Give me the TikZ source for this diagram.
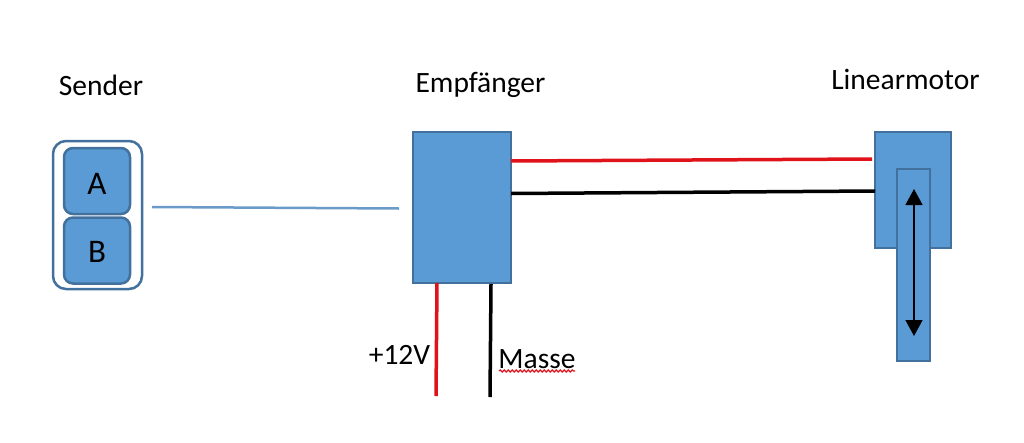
\documentclass[tikz,border=0pt]{standalone}
\usepackage{fontspec}
\setmainfont{Carlito}
\usetikzlibrary{arrows.meta,decorations.pathmorphing}
\definecolor{fillblue}{HTML}{5B9BD5}
\definecolor{edgeblue}{HTML}{41719C}
\definecolor{wirered}{HTML}{E0131B}
\definecolor{wireblue}{HTML}{6A9BC8}
\tikzset{
  x=1pt,y=-1pt,
  label text/.style={inner sep=0pt,font=\fontsize{29.5}{34}\selectfont,text=black},
  solid box/.style={draw=edgeblue,line width=2.5pt,fill=fillblue,inner sep=0pt,minimum width=#1},
  key box/.style={draw=edgeblue,line width=2.5pt,fill=fillblue,rounded corners=9pt,inner sep=0pt,minimum width=66pt,minimum height=66pt,font=\fontsize{33}{36}\selectfont},
  wire/.style={line width=3.5pt},
}
\begin{document}
\begin{tikzpicture}
\useasboundingbox (0,0) rectangle (1024,442);
\fill[white] (0,0) rectangle (1024,442);
% labels
\node[label text] (sender) at (101,85.5) {Sender};
\node[label text] (empf) at (480.5,85) {Empfänger};
\node[label text] (linear) at (905.5,79.5) {Linearmotor};
\node[label text] (v12) at (399.5,355) {+12V};
\node[label text] (masse) at (537,359) {Masse};
% sender
\node[draw=edgeblue,line width=2.5pt,fill=white,rounded corners=13pt,minimum width=89pt,minimum height=148pt,inner sep=0pt] (remote) at (97.5,215) {};
\node[key box] (keyA) at (97,181) {\raisebox{-13.5pt}[0pt][0pt]{A}};
\node[key box] (keyB) at (97,250.5) {\raisebox{-12pt}[0pt][0pt]{B}};
% receiver
\node[solid box=98pt,minimum height=151pt] (rx) at (462,207.5) {};
% motor
\node[solid box=76pt,minimum height=116pt] (motor) at (913,190) {};
\node[solid box=33pt,minimum height=192pt] (rod) at (913.5,265) {};
% helper coordinates
\coordinate (blueA) at (152,207);
\coordinate (blueB) at (399,208.5);
\coordinate (redA) at (511,161);
\coordinate (redB) at (872,159);
\coordinate (blackA) at (511,193.5);
\coordinate (blackB) at (875,191);
\coordinate (redTop) at (437,283);
\coordinate (redEnd) at (436,396);
\coordinate (blackTop) at (491,284);
\coordinate (blackEnd) at (490,397);
\coordinate (arrowTop) at (914,189);
\coordinate (arrowEnd) at (914,336);
\coordinate (sqA) at (499,371);
\coordinate (sqB) at (575,371);
% wires
\draw[wireblue,line width=2.5pt] (blueA) -- (blueB);
\draw[wire,wirered] (redA) -- (redB);
\draw[wire,black] (blackA) -- (blackB);
\draw[wire,wirered] (redTop) -- (redEnd);
\draw[wire,black] (blackTop) -- (blackEnd);
\draw[black,line width=1.5pt,{Triangle[length=16pt,width=17pt]}-{Triangle[length=16pt,width=17pt]}] (arrowTop) -- (arrowEnd);
\draw[wirered,line width=1.2pt,decorate,decoration={snake,amplitude=1pt,segment length=4pt}] (sqA) -- (sqB);
\end{tikzpicture}
\end{document}
